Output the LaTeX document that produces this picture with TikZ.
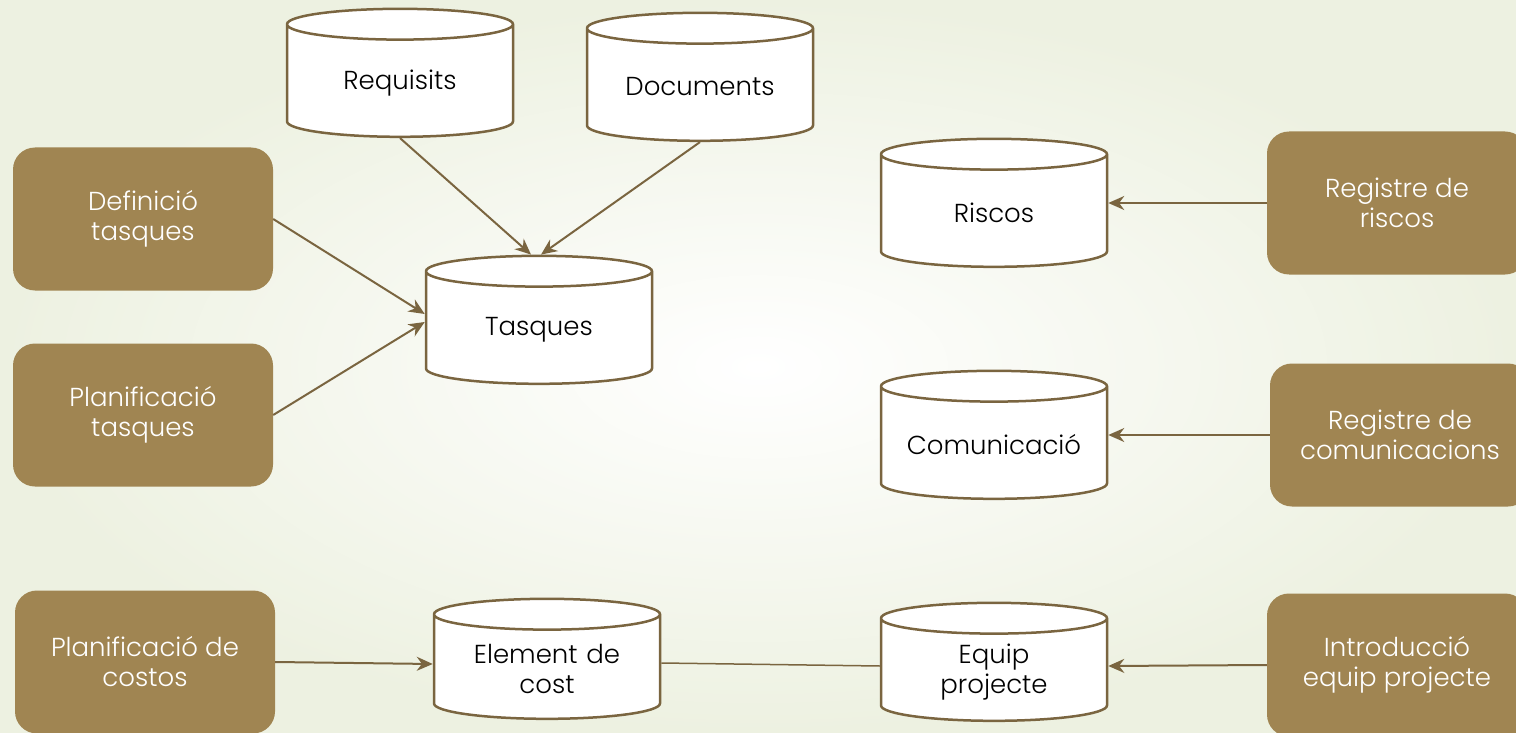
\documentclass[tikz,border=0pt]{standalone}
\usepackage{fontspec}
\setmainfont{Poppins}[UprightFont=* Light]
\usetikzlibrary{shapes.geometric,arrows.meta}
\definecolor{linebrown}{HTML}{7A6540}
\definecolor{boxbrown}{HTML}{A08552}
\definecolor{bgcream}{HTML}{EDF1E1}

\begin{document}
\begin{tikzpicture}[x=1pt,y=-1pt,
	store/.style={cylinder,shape border rotate=90,aspect=0.165,draw=linebrown,line width=2.5pt,fill=white,
		minimum width=226pt,minimum height=128pt,text width=180pt,align=center,font=\fontsize{26}{30}\selectfont},
	proc/.style={rounded corners=22pt,fill=boxbrown,text=white,minimum width=260pt,minimum height=143pt,
		align=center,font=\fontsize{26}{30}\selectfont},
	link/.style={draw=linebrown,line width=2pt,-{Stealth[length=16pt,width=14pt]}}]
	\useasboundingbox (0,0) rectangle (1516,733);
	\shade[inner color=white,outer color=bgcream] (0,0) rectangle (1516,733);

	\node[store] (req) at (400,83) {Requisits};
	\node[store] (doc) at (700,87) {Documents};
	\node[store] (tas) at (539,330) {Tasques};
	\node[store] (ris) at (994,213) {Riscos};
	\node[store] (com) at (994,445) {Comunicació};
	\node[store,minimum height=120pt] (ele) at (547,669) {Element de\\cost};
	\node[store,minimum height=118pt] (equ) at (994,672) {Equip\\projecte};

	\node[proc] (def) at (143,219) {Definició\\tasques};
	\node[proc] (plt) at (143,415) {Planificació\\tasques};
	\node[proc] (plc) at (145,662) {Planificació de\\costos};
	\node[proc] (rgr) at (1397,203) {Registre de\\riscos};
	\node[proc] (rgc) at (1400,435) {Registre de\\comunicacions};
	\node[proc] (int) at (1397,665) {Introducció\\equip projecte};

	\draw[link] (req.south) -- ([xshift=-8pt]tas.north);
	\draw[link] (doc.south) -- ([xshift=2pt]tas.north);
	\draw[link] (def.east) -- ([yshift=16pt]tas.west);
	\draw[link] (plt.east) -- ([yshift=8pt]tas.west);
	\draw[link] (rgr.west) -- (rgr.west -| ris.east);
	\draw[link] (rgc.west) -- (rgc.west -| com.east);
	\draw[link] (plc.east) -- ([yshift=-2pt]plc.east -| ele.west);
	\draw[draw=linebrown,line width=1.5pt] ([yshift=-1pt]plc.east -| ele.east) -- ([yshift=-4pt]plc.east -| equ.west);
	\draw[link] (int.west) -- ([yshift=-1pt]int.west -| equ.east);
\end{tikzpicture}
\end{document}
